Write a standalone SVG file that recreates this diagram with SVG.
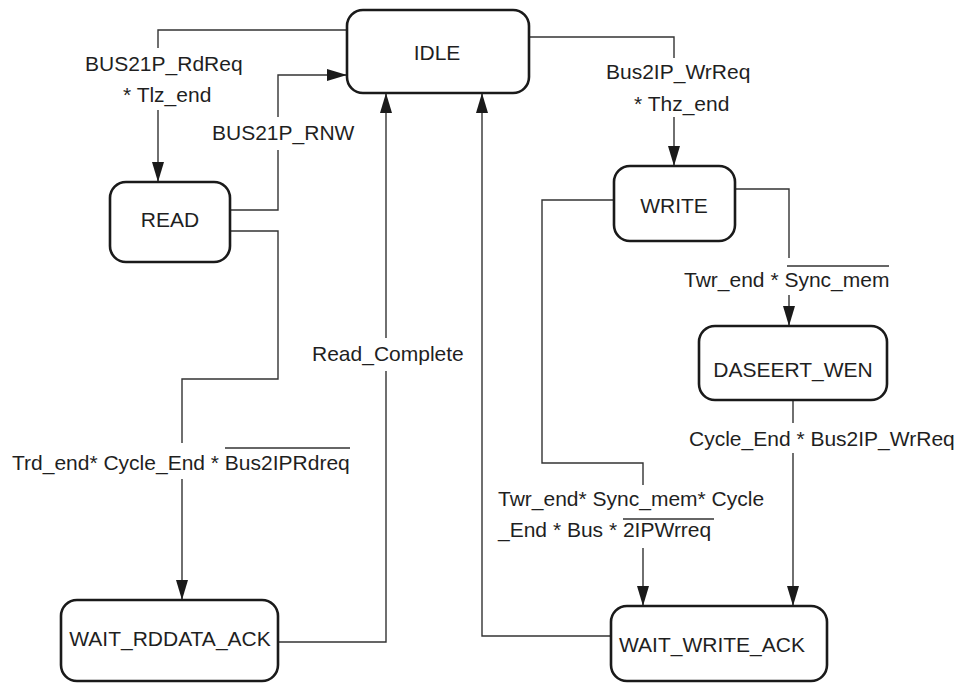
<svg xmlns="http://www.w3.org/2000/svg" width="961" height="684" viewBox="0 0 961 684">
  <defs>
    <marker id="arrow" markerUnits="userSpaceOnUse" markerWidth="20" markerHeight="14" refX="20" refY="6" orient="auto">
      <path d="M0,0 L20,6 L0,12 z" fill="#1a1a1a"/>
    </marker>
    <style>
      .state { fill: #ffffff; stroke: #1a1a1a; stroke-width: 2.6; }
      .name { font-family: "Liberation Sans", Arial, sans-serif; font-size: 21px; fill: #1f1f1f; text-anchor: middle; }
      .lbl { font-family: "Liberation Sans", Arial, sans-serif; font-size: 21px; fill: #1f1f1f; }
      .wire { fill: none; stroke: #333333; stroke-width: 1.4; }
      .bar { stroke: #333333; stroke-width: 1.4; }
    </style>
  </defs>
  <rect width="961" height="684" fill="#ffffff"/>

  <!-- transitions -->
  <g id="connectors">
    <!-- IDLE -> READ -->
    <path class="wire" d="M347,30 H158 V48"/>
    <path class="wire" d="M158,110 V182" marker-end="url(#arrow)"/>
    <!-- READ -> IDLE -->
    <path class="wire" d="M230,210 H278 V150"/>
    <path class="wire" d="M278,117 V75 H347" marker-end="url(#arrow)"/>
    <!-- READ -> WAIT_RDDATA_ACK -->
    <path class="wire" d="M230,231 H278 V379 H182 V443"/>
    <path class="wire" d="M182,479 V600" marker-end="url(#arrow)"/>
    <!-- WAIT_RDDATA_ACK -> IDLE -->
    <path class="wire" d="M278,642 H386 V371"/>
    <path class="wire" d="M386,338 V93" marker-end="url(#arrow)"/>
    <!-- WAIT_WRITE_ACK -> IDLE -->
    <path class="wire" d="M611,636 H482 V93" marker-end="url(#arrow)"/>
    <!-- IDLE -> WRITE -->
    <path class="wire" d="M529,37 H674 V58"/>
    <path class="wire" d="M674,117 V166" marker-end="url(#arrow)"/>
    <!-- WRITE -> DASEERT_WEN -->
    <path class="wire" d="M735,189 H789 V258"/>
    <path class="wire" d="M789,295 V326" marker-end="url(#arrow)"/>
    <!-- DASEERT_WEN -> WAIT_WRITE_ACK -->
    <path class="wire" d="M793,400 V423"/>
    <path class="wire" d="M793,453 V606" marker-end="url(#arrow)"/>
    <!-- WRITE -> WAIT_WRITE_ACK -->
    <path class="wire" d="M614,200 H542 V463 H643 V485"/>
    <path class="wire" d="M643,548 V606" marker-end="url(#arrow)"/>
  </g>

  <!-- transition conditions -->
  <g id="labels">
    <text class="lbl" x="85" y="71">BUS21P_RdReq</text>
    <text class="lbl" x="123" y="102">* Tlz_end</text>
    <text class="lbl" x="212" y="140">BUS21P_RNW</text>
    <text class="lbl" x="312" y="361">Read_Complete</text>
    <text class="lbl" x="12" y="470">Trd_end* Cycle_End * Bus2IPRdreq</text>
    <line class="bar" x1="225" y1="448" x2="350" y2="448"/>
    <text class="lbl" x="606" y="79">Bus2IP_WrReq</text>
    <text class="lbl" x="634" y="111">* Thz_end</text>
    <text class="lbl" x="684" y="287">Twr_end * Sync_mem</text>
    <line class="bar" x1="787" y1="266" x2="889" y2="266"/>
    <text class="lbl" x="689" y="446">Cycle_End * Bus2IP_WrReq</text>
    <text class="lbl" x="498" y="506">Twr_end* Sync_mem* Cycle</text>
    <text class="lbl" x="498" y="537">_End * Bus * 2IPWrreq</text>
    <line class="bar" x1="623" y1="519" x2="714" y2="519"/>
  </g>

  <!-- states -->
  <g id="IDLE">
    <rect class="state" x="347" y="10" width="182" height="83" rx="16"/>
    <text class="name" x="437" y="60">IDLE</text>
  </g>
  <g id="READ">
    <rect class="state" x="110" y="182" width="120" height="80" rx="16"/>
    <text class="name" x="170" y="227">READ</text>
  </g>
  <g id="WAIT_RDDATA_ACK">
    <rect class="state" x="61" y="600" width="217" height="81" rx="16"/>
    <text class="name" x="170" y="646">WAIT_RDDATA_ACK</text>
  </g>
  <g id="WRITE">
    <rect class="state" x="614" y="166" width="121" height="75" rx="16"/>
    <text class="name" x="674" y="213">WRITE</text>
  </g>
  <g id="DASEERT_WEN">
    <rect class="state" x="699" y="326" width="188" height="74" rx="16"/>
    <text class="name" x="793" y="377">DASEERT_WEN</text>
  </g>
  <g id="WAIT_WRITE_ACK">
    <rect class="state" x="611" y="606" width="216" height="75" rx="16"/>
    <text class="name" x="712" y="652">WAIT_WRITE_ACK</text>
  </g>
</svg>
